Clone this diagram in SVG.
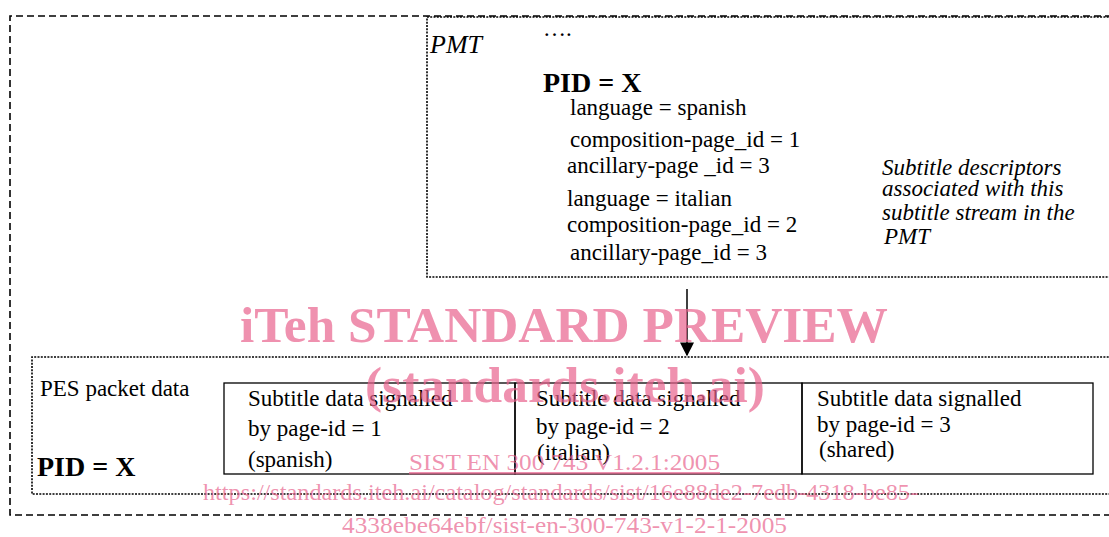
<svg xmlns="http://www.w3.org/2000/svg" width="1109" height="537" viewBox="0 0 1109 537">
<defs>
<style>
.t{font-family:"Liberation Serif","Times New Roman",serif;font-size:23px;fill:#000}
.b{font-family:"Liberation Serif","Times New Roman",serif;font-size:28px;font-weight:bold;fill:#000}
.i{font-family:"Liberation Serif","Times New Roman",serif;font-size:23px;font-style:italic;fill:#000}
.dash{fill:none;stroke:#000;stroke-width:1.6;stroke-dasharray:7,4}
.dot{fill:none;stroke:#000;stroke-width:1.6;stroke-dasharray:2,1.3}
.box{fill:none;stroke:#000;stroke-width:1.3}
.wm{font-family:"Liberation Serif","Times New Roman",serif;fill:#e8638d;fill-opacity:0.7}
</style>
<marker id="arr" viewBox="0 0 10 10" refX="9" refY="5" markerWidth="14" markerHeight="14" markerUnits="userSpaceOnUse" orient="auto">
<path d="M0,0 L10,5 L0,10 Z" fill="#000"/>
</marker>
</defs>
<g id="outer">
<path class="dash" d="M1112,16 H10 V515 H1112"/>
</g>
<g id="pmt">
<path class="dot" d="M1112,17 H427 V277 H1112"/>
<text class="i" x="430" y="53" style="font-size:26px">PMT</text>
<text class="t" x="543" y="36">….</text>
<text class="b" x="543" y="92">PID = X</text>
<text class="t" x="570" y="115">language = spanish</text>
<text class="t" x="570" y="147">composition-page_id = 1</text>
<text class="t" x="567" y="173">ancillary-page _id = 3</text>
<text class="t" x="567" y="206">language = italian</text>
<text class="t" x="567" y="232">composition-page_id = 2</text>
<text class="t" x="570" y="260">ancillary-page_id = 3</text>
<text class="i" x="882" y="175">Subtitle descriptors</text>
<text class="i" x="882" y="196">associated with this</text>
<text class="i" x="882" y="220">subtitle stream in the</text>
<text class="i" x="884" y="244">PMT</text>
</g>
<g id="pes">
<path class="dot" d="M1112,357 H32 V494 H1112"/>
<text class="t" x="40" y="396">PES packet data</text>
<text class="b" x="37" y="476">PID = X</text>
</g>
<g id="seg1">
<rect class="box" x="224" y="383" width="291" height="91"/>
<text class="t" x="248" y="406">Subtitle data signalled</text>
<text class="t" x="248" y="436">by page-id = 1</text>
<text class="t" x="248" y="467">(spanish)</text>
</g>
<g id="seg2">
<rect class="box" x="515" y="383" width="287" height="91"/>
<text class="t" x="536" y="406">Subtitle data signalled</text>
<text class="t" x="536" y="434">by page-id = 2</text>
<text class="t" x="537" y="460">(italian)</text>
</g>
<g id="seg3">
<rect class="box" x="802" y="383" width="291" height="91"/>
<text class="t" x="817" y="406">Subtitle data signalled</text>
<text class="t" x="817" y="432">by page-id = 3</text>
<text class="t" x="819" y="457">(shared)</text>
</g>
<g id="connectors">
<line x1="687" y1="289" x2="687" y2="355" stroke="#000" stroke-width="1.5" marker-end="url(#arr)"/>
</g>
<g id="watermark">
<text class="wm" x="240" y="342" textLength="648" lengthAdjust="spacingAndGlyphs" style="font-size:51.5px;font-weight:bold">iTeh STANDARD PREVIEW</text>
<text class="wm" x="365" y="402" textLength="400" lengthAdjust="spacingAndGlyphs" style="font-size:51.5px;font-weight:bold">(standards.iteh.ai)</text>
<text class="wm" x="409" y="470" textLength="311" lengthAdjust="spacingAndGlyphs" style="font-size:24px;text-decoration:underline">SIST EN 300 743 V1.2.1:2005</text>
<text class="wm" x="203" y="500" textLength="715" lengthAdjust="spacingAndGlyphs" style="font-size:24px">https://standards.iteh.ai/catalog/standards/sist/16e88de2-7edb-4318-be85-</text>
<text class="wm" x="342" y="533" textLength="445" lengthAdjust="spacingAndGlyphs" style="font-size:24px">4338ebe64ebf/sist-en-300-743-v1-2-1-2005</text>
</g>
</svg>
